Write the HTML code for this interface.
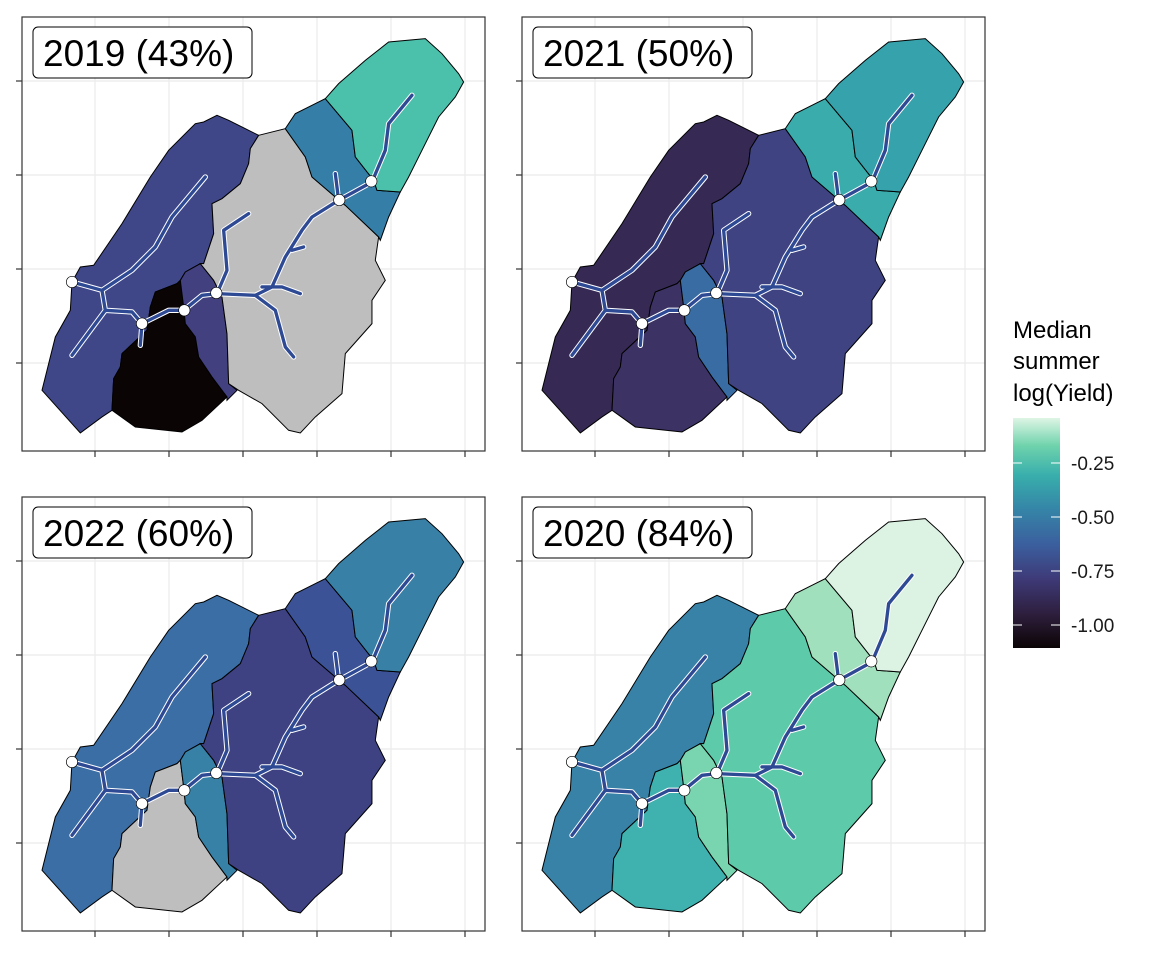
<!DOCTYPE html>
<html><head><meta charset="utf-8"><style>
body{margin:0;background:#fff;width:1152px;height:960px;overflow:hidden}
text{font-family:"Liberation Sans",Arial,sans-serif}
</style></head><body>
<svg width="1152" height="960" viewBox="0 0 1152 960" xmlns="http://www.w3.org/2000/svg">
<defs>
<linearGradient id="cb" x1="0" y1="1" x2="0" y2="0">
<stop offset="0" stop-color="#0b0405"/><stop offset="0.15" stop-color="#2e1f3e"/>
<stop offset="0.3" stop-color="#3e3a78"/><stop offset="0.45" stop-color="#3b5f9e"/>
<stop offset="0.6" stop-color="#3584a7"/><stop offset="0.75" stop-color="#38aeac"/>
<stop offset="0.88" stop-color="#6fd3ac"/><stop offset="1" stop-color="#def5e5"/>
</linearGradient>
<path id="A" d="M150,795 L175,750 215,745 300,620 385,480 440,400 520,320 545,315 585,295 620,310 710,355 685,395 680,440 655,500 600,545 570,560 575,650 545,740 535,740 490,765 475,790 465,800 400,825 385,870 375,940 300,1010 295,1050 275,1085 270,1180 240,1200 175,1248 60,1120 100,960 145,880 Z"/>
<path id="B" d="M475,790 L485,870 490,920 520,960 530,1020 570,1080 615,1140 540,1210 480,1245 340,1230 270,1180 275,1085 295,1050 300,1010 375,940 385,870 400,825 465,800 Z"/>
<path id="C" d="M535,740 L575,790 600,840 615,950 620,1100 645,1120 615,1150 615,1140 570,1080 530,1020 520,960 490,920 485,870 475,790 490,765 Z"/>
<path id="D" d="M710,355 L790,335 850,420 870,480 940,540 970,565 1070,660 1060,730 1090,790 1050,850 1050,920 970,1010 960,1130 880,1200 835,1248 800,1240 720,1160 650,1120 620,1100 615,950 600,840 575,790 535,740 545,740 575,650 570,560 600,545 655,500 680,440 685,395 Z"/>
<path id="E" d="M790,335 L820,290 870,265 910,245 990,340 1000,420 1055,490 1065,520 1135,525 1100,600 1075,670 1070,660 970,565 940,540 870,480 850,420 Z"/>
<path id="F" d="M910,245 L950,200 1030,130 1100,75 1210,65 1260,110 1310,170 1325,195 1300,240 1250,300 1200,400 1160,480 1135,525 1065,520 1055,490 1000,420 990,340 Z"/>
<g id="R" fill="none" stroke-linejoin="round" stroke-linecap="round">
<path d="M150,795 L240,820 250,880 330,885 360,920 440,880 485,880 540,835 585,830 700,835 750,810 790,720 840,640 870,600 950,550 1050,495 1090,400 1100,320 1170,235 M250,880 L150,1015 M240,820 L330,760 400,690 450,600 550,480 M360,920 L355,985 M585,830 L615,760 605,640 680,590 M700,835 L760,880 790,990 815,1020 M720,810 L780,810 835,830 M950,550 L940,470 M810,700 L845,690"/>
</g>
<g id="N" fill="#fff" stroke="#000" stroke-width="2">
<circle cx="150" cy="795" r="17"/><circle cx="360" cy="920" r="17"/><circle cx="487" cy="880" r="17"/><circle cx="583" cy="828" r="17"/><circle cx="952" cy="549" r="17"/><circle cx="1048" cy="493" r="17"/>
</g>
<g id="frame">
<g stroke="#ebebeb" stroke-width="1.2">
<line x1="73" y1="0" x2="73" y2="434"/><line x1="147" y1="0" x2="147" y2="434"/><line x1="221" y1="0" x2="221" y2="434"/><line x1="295" y1="0" x2="295" y2="434"/><line x1="369" y1="0" x2="369" y2="434"/><line x1="443" y1="0" x2="443" y2="434"/>
<line x1="0" y1="64" x2="463" y2="64"/><line x1="0" y1="158" x2="463" y2="158"/><line x1="0" y1="252" x2="463" y2="252"/><line x1="0" y1="346" x2="463" y2="346"/>
</g>
<rect x="0" y="0" width="463" height="434" fill="none" stroke="#333" stroke-width="1.2"/>
<g stroke="#333" stroke-width="1.2">
<line x1="73" y1="434" x2="73" y2="440"/><line x1="147" y1="434" x2="147" y2="440"/><line x1="221" y1="434" x2="221" y2="440"/><line x1="295" y1="434" x2="295" y2="440"/><line x1="369" y1="434" x2="369" y2="440"/><line x1="443" y1="434" x2="443" y2="440"/>
<line x1="-6" y1="64" x2="0" y2="64"/><line x1="-6" y1="158" x2="0" y2="158"/><line x1="-6" y1="252" x2="0" y2="252"/><line x1="-6" y1="346" x2="0" y2="346"/>
</g>
</g>
</defs>

<g transform="translate(22,17)"><use href="#frame"/></g>
<g transform="translate(522,17)"><use href="#frame"/></g>
<g transform="translate(22,497)"><use href="#frame"/></g>
<g transform="translate(522,497)"><use href="#frame"/></g>

<g stroke="#000" stroke-width="3">
<g transform="translate(22,17) scale(0.3333)">
<use href="#A" fill="#404789"/><use href="#B" fill="#0b0405"/><use href="#C" fill="#42407e"/><use href="#D" fill="#bebebe"/><use href="#E" fill="#357ea7"/><use href="#F" fill="#4bc0ab"/>
</g>
<g transform="translate(522,17) scale(0.3333)">
<use href="#A" fill="#362a55"/><use href="#B" fill="#3d3264"/><use href="#C" fill="#3a6ca4"/><use href="#D" fill="#3f4382"/><use href="#E" fill="#3aacac"/><use href="#F" fill="#36a2ab"/>
</g>
<g transform="translate(22,497) scale(0.3333)">
<use href="#A" fill="#3a6ea4"/><use href="#B" fill="#bebebe"/><use href="#C" fill="#3780a6"/><use href="#D" fill="#3e4282"/><use href="#E" fill="#3c5296"/><use href="#F" fill="#3880a6"/>
</g>
<g transform="translate(522,497) scale(0.3333)">
<use href="#A" fill="#3882a7"/><use href="#B" fill="#3fb1ae"/><use href="#C" fill="#79d4b0"/><use href="#D" fill="#5dcbaa"/><use href="#E" fill="#a0e0bc"/><use href="#F" fill="#dcf2e3"/>
</g>
</g>

<g transform="translate(22,17) scale(0.3333)"><use href="#R" stroke="#fff" stroke-width="16"/><use href="#R" stroke="#2f4a94" stroke-width="10"/><use href="#N"/></g>
<g transform="translate(522,17) scale(0.3333)"><use href="#R" stroke="#fff" stroke-width="16"/><use href="#R" stroke="#2f4a94" stroke-width="10"/><use href="#N"/></g>
<g transform="translate(22,497) scale(0.3333)"><use href="#R" stroke="#fff" stroke-width="16"/><use href="#R" stroke="#2f4a94" stroke-width="10"/><use href="#N"/></g>
<g transform="translate(522,497) scale(0.3333)"><use href="#R" stroke="#fff" stroke-width="16"/><use href="#R" stroke="#2f4a94" stroke-width="10"/><use href="#N"/></g>

<g font-size="37" fill="#000">
<rect x="33" y="27" width="219" height="51" rx="5" fill="#fff" stroke="#000" stroke-width="1"/>
<text x="43" y="66">2019 (43%)</text>
<rect x="533" y="27" width="219" height="51" rx="5" fill="#fff" stroke="#000" stroke-width="1"/>
<text x="543" y="66">2021 (50%)</text>
<rect x="33" y="507" width="219" height="51" rx="5" fill="#fff" stroke="#000" stroke-width="1"/>
<text x="43" y="546">2022 (60%)</text>
<rect x="533" y="507" width="219" height="51" rx="5" fill="#fff" stroke="#000" stroke-width="1"/>
<text x="543" y="546">2020 (84%)</text>
</g>

<g font-size="24" fill="#000">
<text x="1013" y="338">Median</text>
<text x="1013" y="369">summer</text>
<text x="1013" y="401">log(Yield)</text>
</g>
<rect x="1013" y="418" width="47" height="230" fill="url(#cb)"/>
<g stroke="#fff" stroke-width="1">
<line x1="1013" y1="463" x2="1022" y2="463"/><line x1="1051" y1="463" x2="1060" y2="463"/>
<line x1="1013" y1="517" x2="1022" y2="517"/><line x1="1051" y1="517" x2="1060" y2="517"/>
<line x1="1013" y1="571" x2="1022" y2="571"/><line x1="1051" y1="571" x2="1060" y2="571"/>
<line x1="1013" y1="625" x2="1022" y2="625"/><line x1="1051" y1="625" x2="1060" y2="625"/>
</g>
<g font-size="19" fill="#1a1a1a">
<text x="1071" y="470">-0.25</text>
<text x="1071" y="524">-0.50</text>
<text x="1071" y="578">-0.75</text>
<text x="1071" y="632">-1.00</text>
</g>
</svg>
</body></html>
